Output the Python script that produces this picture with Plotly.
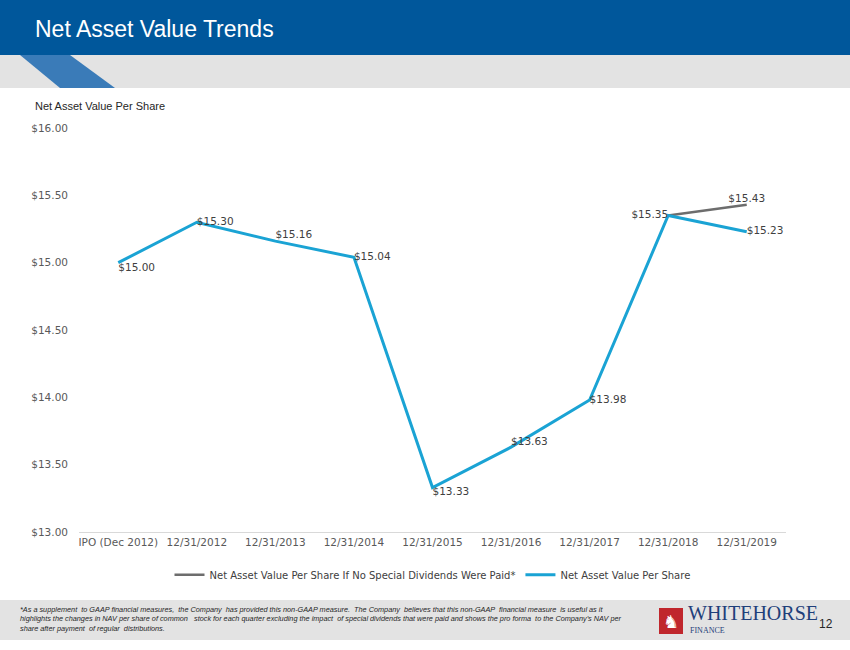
import plotly.graph_objects as go

categories = ["IPO (Dec 2012)", "12/31/2012", "12/31/2013", "12/31/2014", "12/31/2015",
              "12/31/2016", "12/31/2017", "12/31/2018", "12/31/2019"]
nav = [15.00, 15.30, 15.16, 15.04, 13.33, 13.63, 13.98, 15.35, 15.23]
nav_no_special = [None, None, None, None, None, None, None, 15.35, 15.43]
nav_labels = ["$15.00", "$15.30", "$15.16", "$15.04", "$13.33", "$13.63", "$13.98", "$15.35", "$15.23"]
nav_pos = ["bottom right", "middle right", "top right", "middle right", "bottom right",
           "top right", "middle right", "middle left", "middle right"]

fig = go.Figure()
fig.add_trace(go.Scatter(x=categories, y=nav_no_special, mode="lines+text",
    name="Net Asset Value Per Share If No Special Dividends Were Paid*",
    line=dict(color="#6d6d6d", width=2.5),
    text=[None]*8 + ["$15.43"], textposition="top center",
    textfont=dict(family="DejaVu Sans", size=10.5, color="#404040")))
fig.add_trace(go.Scatter(x=categories, y=nav, mode="lines+text",
    name="Net Asset Value Per Share",
    line=dict(color="#1aa3d4", width=3),
    text=nav_labels, textposition=nav_pos,
    textfont=dict(family="DejaVu Sans", size=10.5, color="#404040")))

def px(x): return (x-79)/707
def py(y): return (650-y-118)/404

fig.update_layout(
    width=850, height=650,
    margin=dict(l=79, r=64, t=128, b=118),
    paper_bgcolor="white", plot_bgcolor="white",
    font=dict(family="DejaVu Sans", size=10.5, color="#595959"),
    showlegend=True,
    legend=dict(orientation="h", x=0.5, xanchor="center", y=-0.07, yanchor="top",
                font=dict(size=10, color="#404040"), traceorder="normal"),
    xaxis=dict(type="category", showgrid=False, showline=True, linecolor="#d9d9d9",
               tickfont=dict(size=10.5, color="#595959"), ticks="", range=[-0.5, 8.5], fixedrange=True),
    yaxis=dict(range=[13, 16], dtick=0.5, tickformat="$.2f", showgrid=False, zeroline=False,
               tickfont=dict(size=10.5, color="#595959"), ticklabelstandoff=10),
    shapes=[
        dict(type="rect", xref="paper", yref="paper", x0=-0.2, x1=1.2, y0=py(55), y1=2, line_width=0, fillcolor="#00579b", layer="below"),
        dict(type="rect", xref="paper", yref="paper", x0=-0.2, x1=1.2, y0=py(88), y1=py(55), line_width=0, fillcolor="#e3e3e3", layer="below"),
        dict(type="path", xref="paper", yref="paper",
             path=f"M {px(20)},{py(55)} L {px(70)},{py(55)} L {px(115)},{py(88)} L {px(60)},{py(88)} Z",
             fillcolor="#3a7bb8", line_width=0, layer="below"),
        dict(type="rect", xref="paper", yref="paper", x0=-0.2, x1=1.2, y0=py(640), y1=py(600), line_width=0, fillcolor="#e3e3e3", layer="below"),
        dict(type="rect", xref="paper", yref="paper", x0=px(659), x1=px(683), y0=py(634), y1=py(608), line_width=0, fillcolor="#c0272d"),
    ],
)
anns = [
    dict(text="Net Asset Value Trends", x=px(33), y=py(29), xanchor="left", yanchor="middle", font=dict(family="Liberation Sans", size=23, color="white")),
    dict(text="Net Asset Value Per Share", x=px(33), y=py(106), xanchor="left", yanchor="middle", font=dict(family="Liberation Sans", size=11, color="#262626")),
    dict(text="<i>*As a supplement  to GAAP financial measures,  the Company  has provided this non-GAAP measure.  The Company  believes that this non-GAAP  financial measure  is useful as it<br>highlights the changes in NAV per share of common   stock for each quarter excluding the impact  of special dividends that were paid and shows the pro forma  to the Company’s NAV per<br>share after payment  of regular  distributions.</i>",
         x=px(18), y=py(619), xanchor="left", yanchor="middle", align="left", font=dict(family="Liberation Sans", size=7.3, color="#262626")),
    dict(text="♞", x=px(671), y=py(621), xanchor="center", yanchor="middle", font=dict(size=18, color="white")),
    dict(text="WHITEHORSE", x=px(686), y=py(613), xanchor="left", yanchor="middle", font=dict(family="Liberation Serif", size=20, color="#1f3f7a")),
    dict(text="FINANCE", x=px(688), y=py(630), xanchor="left", yanchor="middle", font=dict(family="Liberation Serif", size=8, color="#1f3f7a")),
    dict(text="12", x=px(835), y=py(624), xanchor="right", yanchor="middle", font=dict(family="Liberation Sans", size=12, color="#262626")),
]
for a in anns:
    a.update(xref="paper", yref="paper", showarrow=False)
fig.update_layout(annotations=anns)
fig.write_html("out.html", config={"displayModeBar": False},
               post_script="document.body.style.margin='0';")
